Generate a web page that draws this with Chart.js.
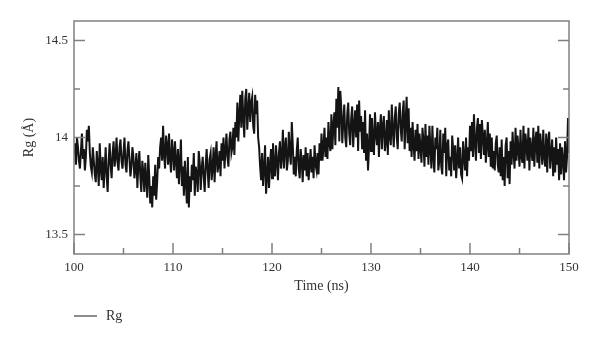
<!DOCTYPE html>
<html>
<head>
<meta charset="utf-8">
<script src="https://cdn.jsdelivr.net/npm/chart.js@4.4.1/dist/chart.umd.min.js"></script>
<style>
  html, body { margin: 0; padding: 0; background: #fff; }
</style>
</head>
<body>
<canvas id="chartRg" width="600" height="342"></canvas>
<script>
// Rg trajectory, one sample every 0.1 ns starting at 100 ns (one row = 1 ns)
const startTime = 100;
const timeStep = 0.1;
const rgValues = [
  13.97,13.92,13.86,14.00,13.95,13.88,13.84,13.93,14.02,13.89, // 100
  13.94,13.83,13.90,14.04,13.98,14.06,13.92,13.85,13.82,13.95,
  13.88,13.81,13.77,13.93,13.86,13.75,13.97,13.84,13.78,13.90,
  13.74,13.84,13.95,13.80,13.72,13.88,13.97,13.86,13.79,13.92,
  13.98,13.85,13.90,14.00,13.87,13.83,13.95,13.99,13.88,13.84,
  13.92,14.00,13.86,13.82,13.93,13.98,13.89,13.80,13.85,13.95, // 105
  13.90,13.79,13.84,13.92,13.74,13.86,13.93,13.80,13.72,13.88,
  13.82,13.72,13.87,13.78,13.69,13.91,13.80,13.66,13.75,13.64,
  13.80,13.70,13.86,13.68,13.77,13.90,13.84,13.95,14.00,13.88,
  14.06,13.91,13.84,14.01,13.96,13.86,14.02,13.89,13.82,13.99,
  13.92,13.83,13.98,13.88,13.79,13.94,13.76,13.87,13.99,13.75, // 110
  13.85,13.70,13.88,13.77,13.66,13.90,13.64,13.80,13.72,13.86,
  13.78,13.92,13.70,13.85,13.81,13.72,13.93,13.87,13.73,13.84,
  13.90,13.80,13.72,13.86,13.94,13.83,13.74,13.89,13.92,13.78,
  13.84,13.95,13.77,13.90,13.98,13.82,13.86,13.93,13.80,13.97,
  13.88,14.00,13.84,13.93,14.02,13.90,13.85,13.99,14.03,13.92, // 115
  13.95,14.05,13.91,14.08,14.00,14.18,13.98,14.12,14.22,14.05,
  14.24,14.10,14.00,14.20,14.25,14.04,14.14,14.23,14.08,14.18,
  14.21,14.06,14.02,14.22,14.12,14.19,14.00,13.95,13.85,13.78,
  13.92,13.75,13.84,13.96,13.71,13.80,13.90,13.74,13.86,13.94,
  13.79,13.97,13.85,13.80,13.96,13.88,13.78,13.92,13.98,13.84, // 120
  13.90,14.04,13.84,13.95,14.00,13.83,13.88,14.03,13.92,13.86,
  14.08,13.96,13.81,13.90,13.80,13.93,14.00,13.84,13.79,13.94,
  13.88,13.77,13.91,13.83,13.95,13.80,13.92,13.78,13.86,13.94,
  13.82,13.90,13.79,13.96,13.86,13.83,13.92,13.81,13.97,13.88,
  14.02,13.88,13.95,14.05,13.90,14.00,13.89,14.08,13.97,13.93, // 125
  14.12,13.94,14.06,14.13,13.96,14.20,14.05,14.26,13.98,14.24,
  14.15,13.97,14.08,14.17,14.00,13.95,14.12,14.18,14.02,13.96,
  14.10,14.16,13.95,14.06,14.14,14.00,14.17,13.93,14.19,14.03,
  14.11,13.94,14.08,13.92,14.14,13.88,14.02,13.83,13.95,14.12,
  13.93,14.10,13.99,13.91,14.13,14.02,13.96,14.08,13.90,14.05, // 130
  14.12,13.94,14.06,14.11,13.93,13.98,14.09,13.91,14.14,14.01,
  13.96,14.17,14.04,13.95,14.10,14.16,14.00,13.94,14.12,14.18,
  14.05,13.98,14.13,14.19,13.94,14.08,14.21,13.97,14.15,13.93,
  14.05,13.90,14.08,13.96,13.88,14.04,13.93,14.07,13.89,14.02,
  13.95,13.87,14.05,13.98,13.85,14.07,13.90,14.01,13.86,14.06, // 135
  13.95,13.84,14.06,13.90,13.82,14.00,13.94,14.05,13.83,13.88,
  14.04,13.85,13.81,14.02,13.92,14.05,13.80,13.96,13.99,13.83,
  13.90,13.80,14.01,13.94,13.83,13.96,13.79,13.88,14.00,13.84,
  13.95,13.81,13.79,13.98,13.90,13.83,14.00,13.80,13.95,13.88,
  14.06,13.93,14.08,13.90,14.12,13.97,13.88,14.05,14.10,13.92, // 140
  14.07,13.89,14.09,14.01,13.91,14.04,13.87,13.96,14.08,13.90,
  14.02,13.85,14.00,13.84,13.93,13.83,13.97,14.01,13.86,13.82,
  13.95,13.80,13.99,13.78,13.90,13.75,13.96,14.00,13.79,13.93,
  13.76,13.98,13.86,14.03,13.92,13.84,14.05,13.88,14.01,13.94,
  13.85,14.04,13.90,13.87,14.06,13.84,14.02,13.96,13.88,14.05, // 145
  13.83,14.00,13.93,13.88,14.05,13.85,13.98,14.03,13.87,14.06,
  13.84,14.02,13.95,13.86,14.04,13.90,13.85,14.02,13.82,13.98,
  14.03,13.84,13.92,13.99,13.80,13.95,13.82,14.00,13.86,13.94,
  13.78,13.97,13.81,13.95,13.88,13.78,13.98,13.82,13.90,14.10,
  13.92                                                         // 150
];

const xTicks = [100, 105, 110, 115, 120, 125, 130, 135, 140, 145, 150];
const xLabels = [100, 110, 120, 130, 140, 150];
const yTicks = [13.5, 13.75, 14, 14.25, 14.5];
const yLabels = [13.5, 14, 14.5];

const points = rgValues.map((v, i) => ({ x: startTime + i * timeStep, y: v }));

const serif = '"Liberation Serif", "DejaVu Serif", serif';
const textColor = '#333';
const frameColor = '#808080';

// Frame, inward tick marks and the little legend under the x axis
const frameTicks = {
    id: 'frameTicks',
    afterDatasetsDraw(chart) {
        const { ctx, chartArea: a, scales: { x, y } } = chart;
        ctx.save();
        ctx.strokeStyle = frameColor;
        ctx.lineWidth = 1.5;
        ctx.strokeRect(a.left, a.top, a.right - a.left, a.bottom - a.top);
        ctx.beginPath();
        xTicks.forEach(v => {
            const px = x.getPixelForValue(v);
            const len = xLabels.includes(v) ? 11 : 6;
            ctx.moveTo(px, a.bottom);
            ctx.lineTo(px, a.bottom - len);
        });
        yTicks.forEach(v => {
            const py = y.getPixelForValue(v);
            const len = yLabels.includes(v) ? 11 : 6;
            ctx.moveTo(a.left, py);
            ctx.lineTo(a.left + len, py);
            ctx.moveTo(a.right, py);
            ctx.lineTo(a.right - len, py);
        });
        ctx.stroke();

        // legend
        ctx.strokeStyle = '#444';
        ctx.lineWidth = 1.2;
        ctx.beginPath();
        ctx.moveTo(a.left, 316);
        ctx.lineTo(a.left + 23, 316);
        ctx.stroke();
        ctx.fillStyle = textColor;
        ctx.font = '14px ' + serif;
        ctx.textBaseline = 'middle';
        ctx.textAlign = 'left';
        ctx.fillText(chart.data.datasets[0].label, a.left + 32, 316);
        ctx.restore();
    }
};

new Chart(document.getElementById('chartRg'), {
    type: 'line',
    data: {
        datasets: [{
            label: 'Rg',
            data: points,
            borderColor: '#141414',
            borderWidth: 2,
            pointRadius: 0,
            tension: 0,
            fill: false
        }]
    },
    options: {
        responsive: false,
        animation: false,
        layout: { padding: { top: 21, right: 31, bottom: 0, left: 0 } },
        plugins: {
            legend: { display: false },
            tooltip: { enabled: false }
        },
        scales: {
            x: {
                type: 'linear',
                min: 100,
                max: 150,
                afterBuildTicks: s => { s.ticks = xTicks.map(v => ({ value: v })); },
                afterFit: s => { s.height = 88; },
                grid: { display: false, drawTicks: false },
                border: { display: false },
                ticks: {
                    autoSkip: false,
                    maxRotation: 0,
                    padding: 6,
                    color: textColor,
                    font: { family: serif, size: 13 },
                    callback: v => xLabels.includes(v) ? String(v) : ''
                },
                title: {
                    display: true,
                    text: 'Time (ns)',
                    color: textColor,
                    font: { family: serif, size: 14 },
                    padding: { top: 47, bottom: 47 }
                }
            },
            y: {
                min: 13.4,
                max: 14.6,
                afterBuildTicks: s => { s.ticks = yTicks.map(v => ({ value: v })); },
                afterFit: s => { s.width = 74; },
                grid: { display: false, drawTicks: false },
                border: { display: false },
                ticks: {
                    padding: 6,
                    color: textColor,
                    font: { family: serif, size: 13 },
                    callback: v => yLabels.includes(v) ? String(v) : ''
                },
                title: {
                    display: true,
                    text: 'Rg (Å)',
                    color: textColor,
                    font: { family: serif, size: 14 },
                    padding: { top: 21, bottom: 21 }
                }
            }
        }
    },
    plugins: [frameTicks]
});
</script>
</body>
</html>
